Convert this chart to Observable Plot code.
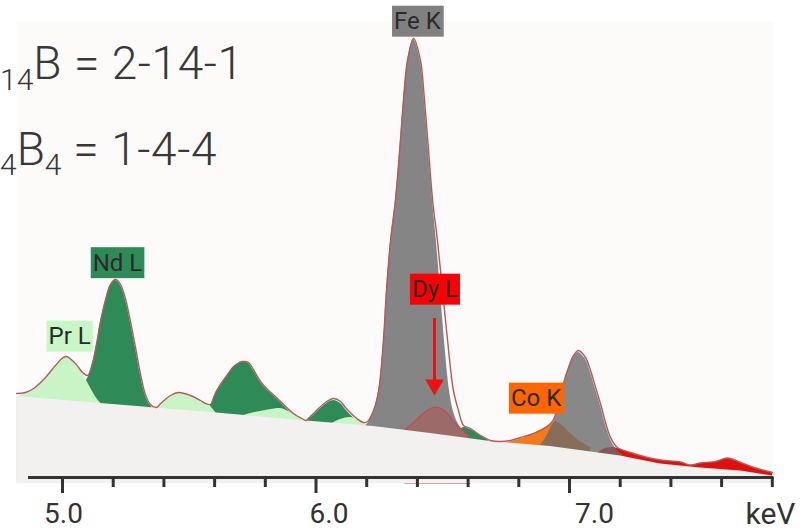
<!DOCTYPE html>
<html>
<head>
<meta charset="utf-8">
<script src="https://cdn.jsdelivr.net/npm/d3@7"></script>
<script src="https://cdn.jsdelivr.net/npm/@observablehq/plot@0.6"></script>
<style>
  html, body { margin: 0; padding: 0; background: #ffffff; }
  #chart { width: 802px; height: 530px; overflow: hidden; }
</style>
</head>
<body>
<div id="chart"></div>
<script>
// ---------- data (keV, counts) ----------
const spectrum = [
  [4.819,840],[4.854,850],[4.886,890],[4.933,1000],[4.972,1120],[5.012,1210],[5.051,1140],
  [5.079,1050],[5.099,1020],[5.118,1140],[5.134,1330],[5.150,1560],[5.170,1780],[5.189,1930],
  [5.209,1980],[5.229,1930],[5.249,1780],[5.268,1560],[5.288,1300],[5.308,1030],[5.327,830],
  [5.347,730],[5.371,700],[5.387,740],[5.426,820],[5.458,850],[5.505,820],[5.544,770],
  [5.564,740],[5.584,730],[5.592,770],[5.604,850],[5.623,930],[5.651,1030],[5.675,1110],
  [5.710,1160],[5.734,1150],[5.753,1080],[5.781,960],[5.809,880],[5.840,810],[5.872,730],
  [5.911,640],[5.951,580],[5.959,570],[5.998,660],[6.037,750],[6.069,790],[6.097,760],
  [6.116,700],[6.156,600],[6.187,550],[6.203,560],[6.227,670],[6.247,870],[6.266,1370],
  [6.278,1870],[6.294,2370],[6.314,2790],[6.333,3370],[6.345,3770],[6.361,4170],[6.385,4390],
  [6.412,4170],[6.428,3770],[6.444,3270],[6.460,2770],[6.479,2370],[6.499,1870],[6.519,1370],
  [6.542,870],[6.562,670],[6.582,520],[6.609,490],[6.649,420],[6.688,370],[6.728,360],
  [6.767,370],[6.807,400],[6.846,430],[6.886,470],[6.917,520],[6.937,580],[6.957,750],
  [6.976,940],[6.992,1070],[7.016,1220],[7.035,1270],[7.063,1200],[7.083,1070],[7.103,900],
  [7.122,740],[7.142,550],[7.162,400],[7.189,300],[7.241,250],[7.300,205],[7.359,175],
  [7.438,155],[7.477,125],[7.517,145],[7.576,160],[7.623,195],[7.675,150],[7.734,95],[7.801,50]
];
const continuum = [
  [4.819,810],[5.150,740],[5.584,650],[5.939,570],[6.227,510],[6.452,440],[6.688,360],
  [6.925,310],[7.201,215],[7.359,135],[7.517,95],[7.675,65],[7.801,15]
];
// Pr L components (light green)
const prL1 = [[4.819,800],[4.854,840],[4.886,880],[4.933,990],[4.972,1110],[5.012,1200],[5.051,1130],
  [5.079,1040],[5.099,950],[5.118,860],[5.138,780],[5.166,710],[5.197,670]];
const prL2 = [[5.347,660],[5.387,730],[5.426,810],[5.458,840],[5.505,810],[5.544,760],[5.568,740],
  [5.588,700],[5.607,640]];
const prL3 = [[5.682,590],[5.742,640],[5.781,660],[5.821,680],[5.860,690],[5.899,650],[5.939,590],[5.970,540]];
const prL4 = [[6.057,530],[6.097,580],[6.136,600],[6.168,580],[6.195,540],[6.223,490]];
// Nd L components (dark green)
const ndL1 = [[5.063,790],[5.087,940],[5.103,1010],[5.118,1130],[5.134,1320],[5.150,1550],[5.170,1770],
  [5.189,1920],[5.209,1970],[5.229,1920],[5.249,1770],[5.268,1550],[5.288,1290],[5.308,1020],
  [5.327,820],[5.347,720],[5.371,670]];
const ndL2 = [[5.576,670],[5.592,760],[5.604,840],[5.623,920],[5.651,1020],[5.675,1100],[5.710,1150],
  [5.734,1140],[5.753,1070],[5.781,950],[5.809,870],[5.840,800],[5.872,720],[5.899,650]];
const ndL3 = [[5.963,560],[5.998,640],[6.037,730],[6.069,770],[6.097,740],[6.116,680],[6.156,580],
  [6.187,530],[6.215,490]];
const ndL4 = [[6.550,430],[6.582,500],[6.609,480],[6.641,430],[6.672,380],[6.696,340]];
// Fe K components (grey)
const feKa = [[6.187,490],[6.207,550],[6.227,660],[6.247,860],[6.266,1360],[6.278,1860],[6.294,2360],
  [6.314,2780],[6.333,3360],[6.345,3760],[6.361,4160],[6.385,4380],[6.412,4160],[6.428,3760],
  [6.444,3260],[6.460,2760],[6.475,2360],[6.491,1860],[6.507,1360],[6.527,860],[6.542,660],
  [6.558,550],[6.578,470],[6.602,410]];
const feKb = [[6.878,300],[6.905,390],[6.925,490],[6.941,570],[6.957,720],[6.976,910],[6.992,1050],
  [7.016,1200],[7.035,1250],[7.063,1180],[7.083,1050],[7.103,880],[7.122,720],[7.142,530],
  [7.162,380],[7.185,280],[7.217,210]];
// Dy L components
const dyLa = [[6.353,470],[6.393,560],[6.432,650],[6.471,700],[6.511,660],[6.538,580],[6.570,490],[6.610,400]];
const dyLb = [[7.114,250],[7.142,290],[7.170,300],[7.189,290],[7.241,245],[7.300,200],[7.359,170],
  [7.438,150],[7.477,120],[7.517,140],[7.576,155],[7.623,190],[7.675,145],[7.734,90],[7.801,45]];
// Co K component (orange)
const coK = [[6.748,340],[6.787,370],[6.826,400],[6.866,450],[6.897,490],[6.925,530],[6.945,560],
  [6.972,520],[7.004,440],[7.043,360],[7.083,300]];

// peak labels
const labelNames  = ["Fe K", "Nd L", "Pr L", "Dy L", "Co K"];
const labelKeV    = [6.400, 5.217, 5.028, 6.469, 6.868];
const labelCounts = [4560, 2145, 1410, 1880, 790];
const labelColors = ["#808080", "#2e8b57", "#c8f7c5", "#fa0000", "#ff6600"];

// Dy L arrow
const arrowKeV = [6.4675];
const arrowFrom = 1590, arrowTo = 970, arrowHead = 927;

// axis ticks
const majorTicks = [5.0, 6.0, 7.0];
const minorTicks = [5.2, 5.4, 5.6, 5.8, 6.2, 6.4, 6.6, 6.8, 7.2, 7.4, 7.6, 7.8];
const tickLabels = ["5.0", "6.0", "7.0"];
const axisUnit = "keV";

// formula annotations
const formula1 = {sub1: "14", main1: "B = 2-14-1"};
const formula2 = {sub1: "4", main1: "B", sub2: "4", main2: "\u00a0= 1-4-4"};

// ---------- chart ----------
const X = d => d[0], Y = d => d[1];
const area = (data, fill, extra = {}) =>
  Plot.areaY(data, {x: X, y1: -60, y2: Y, fill, curve: "catmull-rom", ...extra});

const labelShift = [1, 13, 25];

const chart = Plot.plot({
  width: 802,
  height: 530,
  marginLeft: 16,
  marginRight: 29,
  marginTop: 21,
  marginBottom: 47,
  x: {domain: [4.8185, 7.8047], axis: null},
  y: {domain: [-60, 4560], axis: null},
  style: {fontFamily: "Roboto, 'Liberation Sans', sans-serif", background: "#ffffff", overflow: "hidden"},
  marks: [
    Plot.frame({fill: "#fcfbfa", stroke: null}),
    area(ndL1, "#2e8b57"),
    area(ndL2, "#2e8b57"),
    area(ndL3, "#2e8b57"),
    area(ndL4, "#2e8b57"),
    area(prL1, "#c8f4c6"),
    area(prL2, "#c8f4c6"),
    area(prL3, "#c8f4c6"),
    area(prL4, "#c8f4c6"),
    area(dyLb, "#e30e0e"),
    area(coK, "#f47a1c"),
    area(feKa, "#858585"),
    area(feKb, "#6c6c6c", {fillOpacity: 0.8}),
    area(dyLa, "#d83030", {fillOpacity: 0.3, stroke: "#c24a4a", strokeWidth: 1.2}),
    Plot.areaY(continuum, {x: X, y1: -60, y2: Y, fill: "#f2f1f0"}),
    Plot.line(spectrum, {x: X, y: Y, stroke: "#b35a5a", strokeWidth: 1.4, curve: "catmull-rom"}),
    // axis
    Plot.ruleY([0], {x1: 4.866, x2: 7.806, stroke: "#333333", strokeWidth: 3}),
    Plot.ruleX(majorTicks, {y1: 0, y2: -160, stroke: "#333333", strokeWidth: 3}),
    Plot.ruleX(minorTicks, {y1: 0, y2: -100, stroke: "#333333", strokeWidth: 3}),
    ...majorTicks.map((t, i) => Plot.text([t], {
      x: d => d, y: -370, text: () => tickLabels[i], dx: labelShift[i],
      fontSize: 28, fill: "#333333", lineAnchor: "middle", textAnchor: "middle"
    })),
    Plot.text([axisUnit], {frameAnchor: "bottom-right", text: d => d, dx: -28, dy: 31,
      fontSize: 30, fill: "#333333", textAnchor: "start", lineAnchor: "middle"}),
    // arrow
    Plot.ruleX(arrowKeV, {y1: arrowFrom, y2: arrowTo, stroke: "#ee1111", strokeWidth: 3}),
    Plot.dot(arrowKeV, {x: d => d, y: arrowHead, symbol: "triangle", r: 6.9, fill: "#ee1111", rotate: 180}),
    // peak labels
    Plot.text(labelNames, {x: (d, i) => labelKeV[i], y: (d, i) => labelCounts[i], text: d => d,
      fontSize: 24, fill: "#2a2a2a", lineAnchor: "middle", textAnchor: "middle"})
  ]
});

document.getElementById("chart").append(chart);

// label background boxes
const svg = d3.select(chart);
const colorOf = new Map(labelNames.map((n, i) => [n, labelColors[i]]));
svg.selectAll("text").filter(function () { return colorOf.has(this.textContent); }).each(function () {
  const b = this.getBBox();
  const rect = document.createElementNS("http://www.w3.org/2000/svg", "rect");
  rect.setAttribute("x", b.x - 2);
  rect.setAttribute("y", b.y - 1.5);
  rect.setAttribute("width", b.width + 4);
  rect.setAttribute("height", b.height + 3);
  rect.setAttribute("fill", colorOf.get(this.textContent));
  const tr = this.getAttribute("transform");
  if (tr) rect.setAttribute("transform", tr);
  this.parentNode.insertBefore(rect, this);
});

// formula annotations (at the left edge, as in the source figure)
const fg = svg.append("g").attr("font-family", "'Roboto Light', Roboto, 'Liberation Sans', sans-serif")
  .attr("font-weight", 300).attr("fill", "#383838").attr("text-anchor", "start");
const t1 = fg.append("text").attr("x", 0).attr("y", 79).attr("text-anchor", "start");
t1.append("tspan").attr("font-size", 30).attr("dy", 11).text(formula1.sub1);
t1.append("tspan").attr("font-size", 46).attr("letter-spacing", 0.6).attr("dy", -11).text(formula1.main1);
const t2 = fg.append("text").attr("x", 0).attr("y", 165).attr("text-anchor", "start");
t2.append("tspan").attr("font-size", 30).attr("dy", 10).text(formula2.sub1);
t2.append("tspan").attr("font-size", 46).attr("dy", -10).text(formula2.main1);
t2.append("tspan").attr("font-size", 30).attr("dy", 10).text(formula2.sub2);
t2.append("tspan").attr("font-size", 46).attr("letter-spacing", 0.6).attr("dy", -10).text(formula2.main2);
</script>
</body>
</html>
